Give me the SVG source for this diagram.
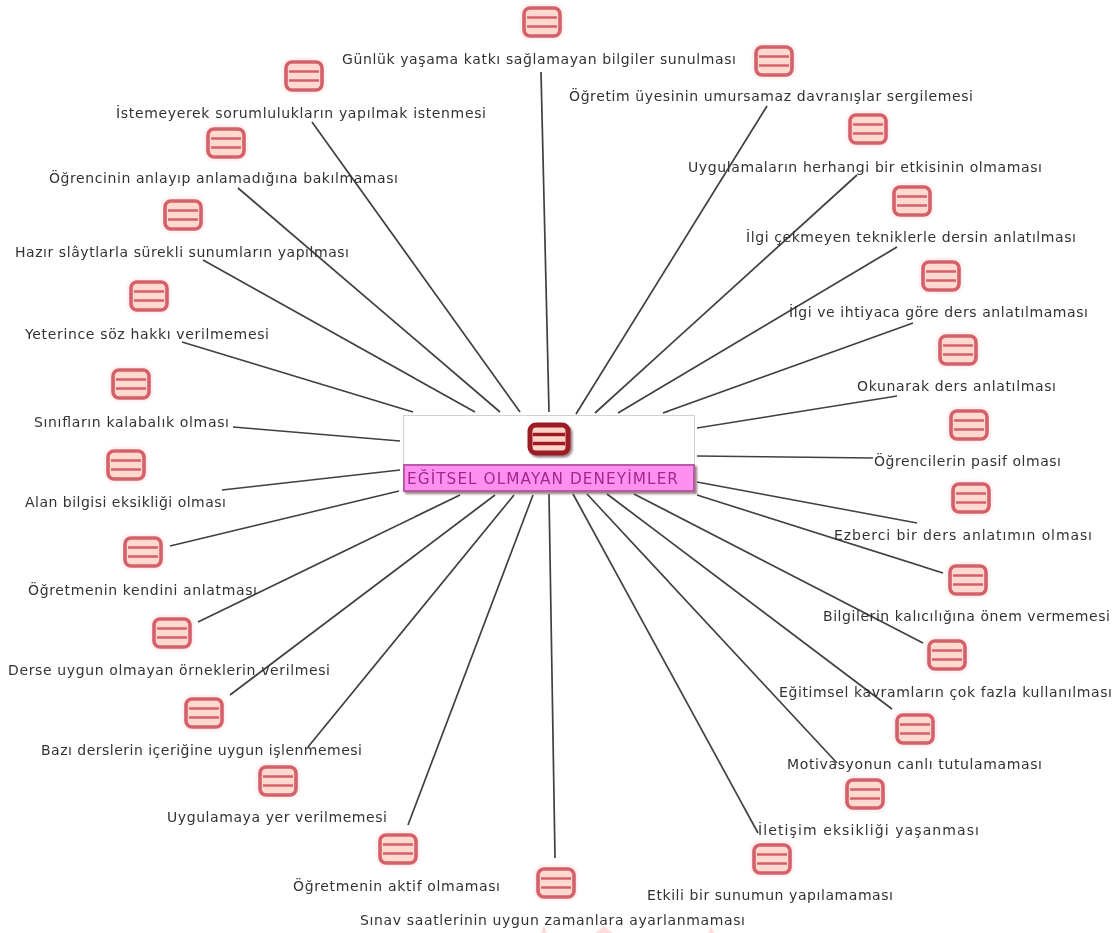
<svg xmlns="http://www.w3.org/2000/svg" width="1113" height="933" viewBox="0 0 1113 933">
<style>
text{font-family:"DejaVu Sans","Liberation Sans",sans-serif;font-size:14px;fill:#333}
.c line{stroke:#404040;stroke-width:1.7;fill:none}
.hl{fill:none;stroke:#fff2f2;stroke-width:8}
.lb{fill:#ffd8d0;stroke:#d4606a;stroke-width:3.6}
.ll{stroke:#d4606a;stroke-width:2.6;fill:none}
.dk{fill:#ffd3c8;stroke:#9c1c28;stroke-width:5}
.dl{stroke:#9c1c28;stroke-width:3.4;fill:none}
.m{fill:#ffdcdc}
</style>
<defs>
<filter id="b" x="-5%" y="-5%" width="110%" height="110%"><feGaussianBlur stdDeviation="0.5"/></filter>
<filter id="s" x="-20%" y="-20%" width="140%" height="140%"><feDropShadow dx="2" dy="2" stdDeviation="1" flood-color="#6b4a4a" flood-opacity="0.7"/></filter>
<symbol id="i" overflow="visible"><rect class="hl" x="-18.5" y="-14.5" width="37" height="29" rx="6"/><rect class="lb" x="-18" y="-14" width="36" height="28" rx="6"/><path class="ll" d="M-15-4.500H15M-15 4.500H15"/></symbol>
</defs>
<rect width="1113" height="933" fill="#fff"/>
<g filter="url(#b)">
<path class="m" d="M541 933l3-8 3 8zM595 933l9-7 9 7zM708 933l3-7 3 7z"/>
<g id="connectors" class="c">
<line x1="541" y1="72" x2="549" y2="412"/>
<line x1="767" y1="106" x2="576" y2="414"/>
<line x1="857" y1="175" x2="595" y2="413"/>
<line x1="897" y1="247" x2="618" y2="413"/>
<line x1="913" y1="323" x2="663" y2="413"/>
<line x1="897" y1="396" x2="697" y2="428"/>
<line x1="873" y1="458" x2="697" y2="456"/>
<line x1="917" y1="523" x2="697" y2="482"/>
<line x1="943" y1="573" x2="697" y2="495"/>
<line x1="923" y1="643" x2="634" y2="494"/>
<line x1="892" y1="709" x2="607" y2="494"/>
<line x1="837" y1="763" x2="587" y2="494"/>
<line x1="758" y1="833" x2="573" y2="494"/>
<line x1="555" y1="858" x2="549" y2="494"/>
<line x1="408" y1="825" x2="533" y2="495"/>
<line x1="308" y1="747" x2="514" y2="495"/>
<line x1="230" y1="695" x2="495" y2="495"/>
<line x1="198" y1="622" x2="460" y2="495"/>
<line x1="170" y1="546" x2="399" y2="491"/>
<line x1="222" y1="490" x2="400" y2="470"/>
<line x1="233" y1="427" x2="400" y2="441"/>
<line x1="182" y1="342" x2="413" y2="412"/>
<line x1="203" y1="260" x2="475" y2="412"/>
<line x1="238" y1="188" x2="500" y2="412"/>
<line x1="312" y1="122" x2="520" y2="412"/>
</g>
<g id="center">
<rect x="403.500" y="415.500" width="291" height="50" fill="#fff" stroke="#d2d2d2"/>
<g filter="url(#s)"><rect class="dk" x="530" y="425" width="38" height="28" rx="6"/><path class="dl" d="M533 434.500H565M533 443.500H565"/></g>
<rect x="404" y="465" width="290" height="26" fill="#ff90f0" stroke="#b85aa6" stroke-width="2" filter="url(#s)"/>
<text x="407" y="484" textLength="271" style="font-size:15.300px;fill:#a3288f">EĞİTSEL OLMAYAN DENEYİMLER</text>
</g>
<g id="n1"><use href="#i" x="542" y="22"/><text x="342" y="64" textLength="394">Günlük yaşama katkı sağlamayan bilgiler sunulması</text></g>
<g id="n2"><use href="#i" x="774" y="61"/><text x="569" y="101" textLength="404">Öğretim üyesinin umursamaz davranışlar sergilemesi</text></g>
<g id="n3"><use href="#i" x="868" y="129"/><text x="688" y="172" textLength="354">Uygulamaların herhangi bir etkisinin olmaması</text></g>
<g id="n4"><use href="#i" x="912" y="201"/><text x="746" y="242" textLength="330">İlgi çekmeyen tekniklerle dersin anlatılması</text></g>
<g id="n5"><use href="#i" x="941" y="276"/><text x="789" y="317" textLength="299">İlgi ve ihtiyaca göre ders anlatılmaması</text></g>
<g id="n6"><use href="#i" x="958" y="350"/><text x="857" y="391" textLength="199">Okunarak ders anlatılması</text></g>
<g id="n7"><use href="#i" x="969" y="425"/><text x="874" y="466" textLength="187">Öğrencilerin pasif olması</text></g>
<g id="n8"><use href="#i" x="971" y="498"/><text x="834" y="540" textLength="258">Ezberci bir ders anlatımın olması</text></g>
<g id="n9"><use href="#i" x="968" y="580"/><text x="823" y="621" textLength="287">Bilgilerin kalıcılığına önem vermemesi</text></g>
<g id="n10"><use href="#i" x="947" y="655"/><text x="779" y="697" textLength="333">Eğitimsel kavramların çok fazla kullanılması</text></g>
<g id="n11"><use href="#i" x="915" y="729"/><text x="787" y="769" textLength="255">Motivasyonun canlı tutulamaması</text></g>
<g id="n12"><use href="#i" x="865" y="794"/><text x="758" y="835" textLength="221">İletişim eksikliği yaşanması</text></g>
<g id="n13"><use href="#i" x="772" y="859"/><text x="647" y="900" textLength="246">Etkili bir sunumun yapılamaması</text></g>
<g id="n14"><use href="#i" x="556" y="883"/><text x="360" y="925" textLength="385">Sınav saatlerinin uygun zamanlara ayarlanmaması</text></g>
<g id="n15"><use href="#i" x="398" y="849"/><text x="293" y="891" textLength="207">Öğretmenin aktif olmaması</text></g>
<g id="n16"><use href="#i" x="278" y="781"/><text x="167" y="822" textLength="220">Uygulamaya yer verilmemesi</text></g>
<g id="n17"><use href="#i" x="204" y="713"/><text x="41" y="755" textLength="321">Bazı derslerin içeriğine uygun işlenmemesi</text></g>
<g id="n18"><use href="#i" x="172" y="633"/><text x="8" y="675" textLength="322">Derse uygun olmayan örneklerin verilmesi</text></g>
<g id="n19"><use href="#i" x="143" y="552"/><text x="28" y="595" textLength="229">Öğretmenin kendini anlatması</text></g>
<g id="n20"><use href="#i" x="126" y="465"/><text x="25" y="507" textLength="201">Alan bilgisi eksikliği olması</text></g>
<g id="n21"><use href="#i" x="131" y="384"/><text x="34" y="427" textLength="195">Sınıfların kalabalık olması</text></g>
<g id="n22"><use href="#i" x="149" y="296"/><text x="25" y="339" textLength="244">Yeterince söz hakkı verilmemesi</text></g>
<g id="n23"><use href="#i" x="183" y="215"/><text x="15" y="257" textLength="334">Hazır slâytlarla sürekli sunumların yapılması</text></g>
<g id="n24"><use href="#i" x="226" y="143"/><text x="49" y="183" textLength="349">Öğrencinin anlayıp anlamadığına bakılmaması</text></g>
<g id="n25"><use href="#i" x="304" y="76"/><text x="116" y="118" textLength="370">İstemeyerek sorumlulukların yapılmak istenmesi</text></g>
</g>
</svg>
